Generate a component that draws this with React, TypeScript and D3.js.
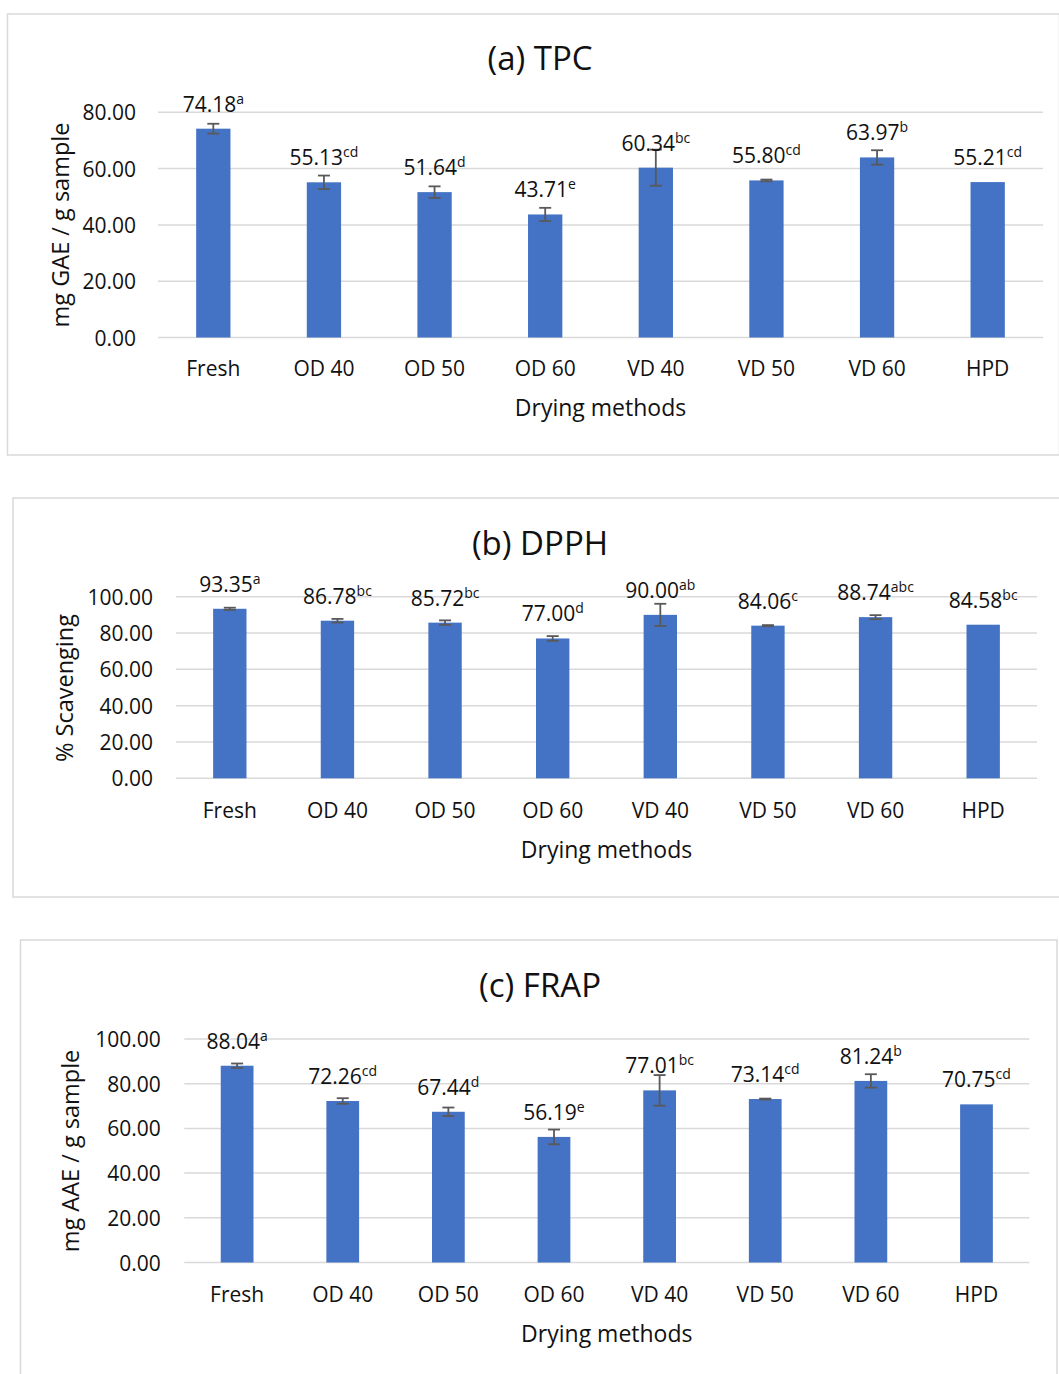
import React from "react";
import * as d3 from "d3";

// Drying methods compared in every panel
const categories = ["Fresh", "OD 40", "OD 50", "OD 60", "VD 40", "VD 50", "VD 60", "HPD"];

// (a) Total phenolic content, mg GAE / g sample
const tpcValues = [74.18, 55.13, 51.64, 43.71, 60.34, 55.8, 63.97, 55.21];
const tpcErrors = [1.75, 2.4, 2.05, 2.35, 6.4, 0.3, 2.55, 0];
const tpcLetters = ["a", "cd", "d", "e", "bc", "cd", "b", "cd"];
const tpcTicks = [0, 20, 40, 60, 80];

// (b) DPPH radical scavenging, %
const dpphValues = [93.35, 86.78, 85.72, 77.0, 90.0, 84.06, 88.74, 84.58];
const dpphErrors = [0.6, 1.0, 1.25, 1.3, 6.1, 0.3, 1.1, 0];
const dpphLetters = ["a", "bc", "bc", "d", "ab", "c", "abc", "bc"];
const dpphTicks = [0, 20, 40, 60, 80, 100];

// (c) Ferric reducing antioxidant power, mg AAE / g sample
const frapValues = [88.04, 72.26, 67.44, 56.19, 77.01, 73.14, 81.24, 70.75];
const frapErrors = [1.0, 1.25, 1.9, 3.3, 6.85, 0.2, 3.0, 0];
const frapLetters = ["a", "cd", "d", "e", "bc", "cd", "b", "cd"];
const frapTicks = [0, 20, 40, 60, 80, 100];

const FONT = "'Open Sans', 'DejaVu Sans', sans-serif";
const BAR = "#4472c4";
const GRID = "#d9d9d9";
const ERR = "#595959";
const INK = "#111";

type PanelLayout = {
  box: [number, number, number, number];
  plotX: [number, number];
  plotY: [number, number]; // pixel of 0, pixel of top tick
  titleY: number;
  tickRight: number;
  catY: number;
  xTitleY: number;
  yTitleX: number;
  yTitleY: number;
};

type PanelProps = {
  title: string;
  yTitle: string;
  values: number[];
  errors: number[];
  letters: string[];
  ticks: number[];
  layout: PanelLayout;
};

function Panel({ title, yTitle, values, errors, letters, ticks, layout }: PanelProps) {
  const L = layout;
  const x = d3.scaleBand<string>().domain(categories).range(L.plotX);
  const y = d3
    .scaleLinear()
    .domain([0, ticks[ticks.length - 1]])
    .range(L.plotY);
  const bw = x.bandwidth() * 0.31;
  const midX = (L.plotX[0] + L.plotX[1]) / 2;
  const fmt = d3.format(".2f");

  return (
    <g fontFamily={FONT} fill={INK}>
      <rect
        x={L.box[0]}
        y={L.box[1]}
        width={L.box[2]}
        height={L.box[3]}
        fill="#fff"
        stroke={GRID}
        strokeWidth={1.5}
      />
      <text x={540} y={L.titleY} textAnchor="middle" dominantBaseline="central" fontSize={33}>
        {title}
      </text>

      {ticks.map((t) => (
        <g key={t}>
          <line x1={L.plotX[0]} x2={L.plotX[1]} y1={y(t)} y2={y(t)} stroke={GRID} strokeWidth={1.5} />
          <text x={L.tickRight} y={y(t)} textAnchor="end" dominantBaseline="central" fontSize={21}>
            {fmt(t)}
          </text>
        </g>
      ))}

      {categories.map((c, i) => {
        const cx = (x(c) as number) + x.bandwidth() / 2;
        const top = y(values[i]);
        const e = errors[i];
        return (
          <g key={c}>
            <rect x={cx - bw / 2} y={top} width={bw} height={y(0) - top} fill={BAR} />
            {e > 0 && (
              <g stroke={ERR} strokeWidth={1.8}>
                <line x1={cx} x2={cx} y1={y(values[i] + e)} y2={y(values[i] - e)} />
                <line x1={cx - 6} x2={cx + 6} y1={y(values[i] + e)} y2={y(values[i] + e)} />
                <line x1={cx - 6} x2={cx + 6} y1={y(values[i] - e)} y2={y(values[i] - e)} />
              </g>
            )}
            <text x={cx} y={top - 17} textAnchor="middle" fontSize={21}>
              <tspan>{fmt(values[i])}</tspan>
              <tspan fontSize={14} dy={-8}>
                {letters[i]}
              </tspan>
            </text>
            <text x={cx} y={L.catY} textAnchor="middle" dominantBaseline="central" fontSize={21}>
              {c}
            </text>
          </g>
        );
      })}

      <text x={midX} y={L.xTitleY} textAnchor="middle" dominantBaseline="central" fontSize={23}>
        Drying methods
      </text>
      <text
        transform={`translate(${L.yTitleX},${L.yTitleY}) rotate(-90)`}
        textAnchor="middle"
        dominantBaseline="central"
        fontSize={23.5}
      >
        {yTitle}
      </text>
    </g>
  );
}

const layoutA: PanelLayout = {
  box: [7.5, 14, 1052, 441],
  plotX: [158, 1043],
  plotY: [337.5, 112.3],
  titleY: 57,
  tickRight: 136,
  catY: 368,
  xTitleY: 407,
  yTitleX: 60,
  yTitleY: 225,
};

const layoutB: PanelLayout = {
  box: [13, 498, 1048, 399],
  plotX: [176, 1037],
  plotY: [778.3, 596.7],
  titleY: 542,
  tickRight: 153,
  catY: 810,
  xTitleY: 849,
  yTitleX: 64,
  yTitleY: 688,
};

const layoutC: PanelLayout = {
  box: [20.5, 940, 1036.5, 445],
  plotX: [184.3, 1029.3],
  plotY: [1262.5, 1039],
  titleY: 984,
  tickRight: 160.7,
  catY: 1294,
  xTitleY: 1333,
  yTitleX: 70,
  yTitleY: 1151,
};

export default function App() {
  return (
    <svg
      width={1059}
      height={1374}
      viewBox="0 0 1059 1374"
      style={{ position: "absolute", left: 0, top: 0, background: "#fff" }}
    >
      <rect width={1059} height={1374} fill="#fff" />
      <Panel
        title="(a) TPC"
        yTitle="mg GAE / g sample"
        values={tpcValues}
        errors={tpcErrors}
        letters={tpcLetters}
        ticks={tpcTicks}
        layout={layoutA}
      />
      <Panel
        title="(b) DPPH"
        yTitle="% Scavenging"
        values={dpphValues}
        errors={dpphErrors}
        letters={dpphLetters}
        ticks={dpphTicks}
        layout={layoutB}
      />
      <Panel
        title="(c) FRAP"
        yTitle="mg AAE / g sample"
        values={frapValues}
        errors={frapErrors}
        letters={frapLetters}
        ticks={frapTicks}
        layout={layoutC}
      />
    </svg>
  );
}
